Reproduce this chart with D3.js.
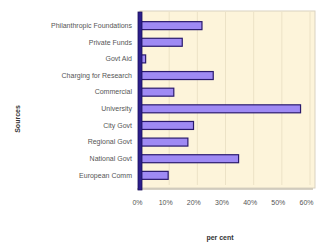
<!DOCTYPE html>
<html>
<head>
<meta charset="utf-8">
<script src="https://cdn.jsdelivr.net/npm/d3@7"></script>
<style>
  body { margin: 0; background: #fff; }
  svg { display: block; font-family: "Liberation Sans", Arial, sans-serif; }
</style>
</head>
<body>
<div id="chart"></div>
<script>
// data
const sources = ["Philanthropic Foundations", "Private Funds", "Govt Aid", "Charging for Research",
    "Commercial", "University", "City Govt", "Regional Govt", "National Govt", "European Comm"];
const percents = [22, 15, 2, 26, 12, 57, 19, 17, 35, 10];
const ticks = [0, 10, 20, 30, 40, 50, 60];

const width = 320, height = 246;
const plot = {left: 140, right: 315, top: 11, bottom: 188};

const svg = d3.select("#chart").append("svg")
    .attr("width", width).attr("height", height);

const x = d3.scaleLinear().domain([0, 60]).range([137, 306]);
const y = d3.scaleBand().domain(sources).range([plot.top + 2, plot.bottom]).padding(0.52);

// back wall
svg.append("rect")
    .attr("x", plot.left).attr("y", plot.top)
    .attr("width", plot.right - plot.left).attr("height", plot.bottom - plot.top)
    .attr("fill", "#fdf4da").attr("stroke", "#d9d2c0").attr("stroke-width", 1);

// gridlines on back wall
svg.append("g").selectAll("line").data(ticks.slice(1)).join("line")
    .attr("x1", d => x(d) + 4).attr("x2", d => x(d) + 4)
    .attr("y1", plot.top + 1).attr("y2", plot.bottom - 3)
    .attr("stroke", "#ece2c6").attr("stroke-width", 1);

// floor edge
svg.append("line")
    .attr("x1", plot.left - 3).attr("x2", plot.right - 2)
    .attr("y1", plot.bottom + 1).attr("y2", plot.bottom + 1)
    .attr("stroke", "#c9c2b2").attr("stroke-width", 1.5);

// bars (front face sits a few px right of the floor scale)
const bars = svg.append("g");
bars.selectAll("rect").data(sources).join("rect")
    .attr("x", x(0) + 4)
    .attr("y", d => y(d))
    .attr("width", (d, i) => x(percents[i]) - x(0) - 1)
    .attr("height", y.bandwidth())
    .attr("fill", "#9f8af4")
    .attr("stroke", "#2a1a6e").attr("stroke-width", 1.2);

// left axis wall
svg.append("rect")
    .attr("x", plot.left - 2).attr("y", plot.top + 1)
    .attr("width", 4).attr("height", plot.bottom - plot.top + 1)
    .attr("fill", "#2c1e8c").attr("stroke", "#1a0f5a").attr("stroke-width", 0.8);

// category labels
const yAxis = svg.append("g")
    .attr("transform", "translate(" + (plot.left - 6) + ",0)")
    .call(d3.axisLeft(y).tickSize(0).tickPadding(2));
yAxis.select(".domain").remove();
yAxis.selectAll("text")
    .attr("font-size", 7).attr("fill", "#555")
    .attr("font-family", "Liberation Sans, Arial, sans-serif");

// percent labels
const xAxis = svg.append("g")
    .attr("transform", "translate(0," + (plot.bottom + 9) + ")")
    .call(d3.axisBottom(x).tickValues(ticks).tickFormat(d => d + "%").tickSize(0));
xAxis.select(".domain").remove();
xAxis.selectAll("text")
    .attr("font-size", 7).attr("fill", "#555")
    .attr("font-family", "Liberation Sans, Arial, sans-serif");

// axis titles
svg.append("text")
    .attr("transform", "translate(20,119) rotate(-90)")
    .attr("text-anchor", "middle")
    .attr("font-size", 7).attr("font-weight", "bold").attr("fill", "#333")
    .text("Sources");

svg.append("text")
    .attr("x", 220).attr("y", 240)
    .attr("text-anchor", "middle")
    .attr("font-size", 7).attr("font-weight", "bold").attr("fill", "#333")
    .text("per cent");
</script>
</body>
</html>
